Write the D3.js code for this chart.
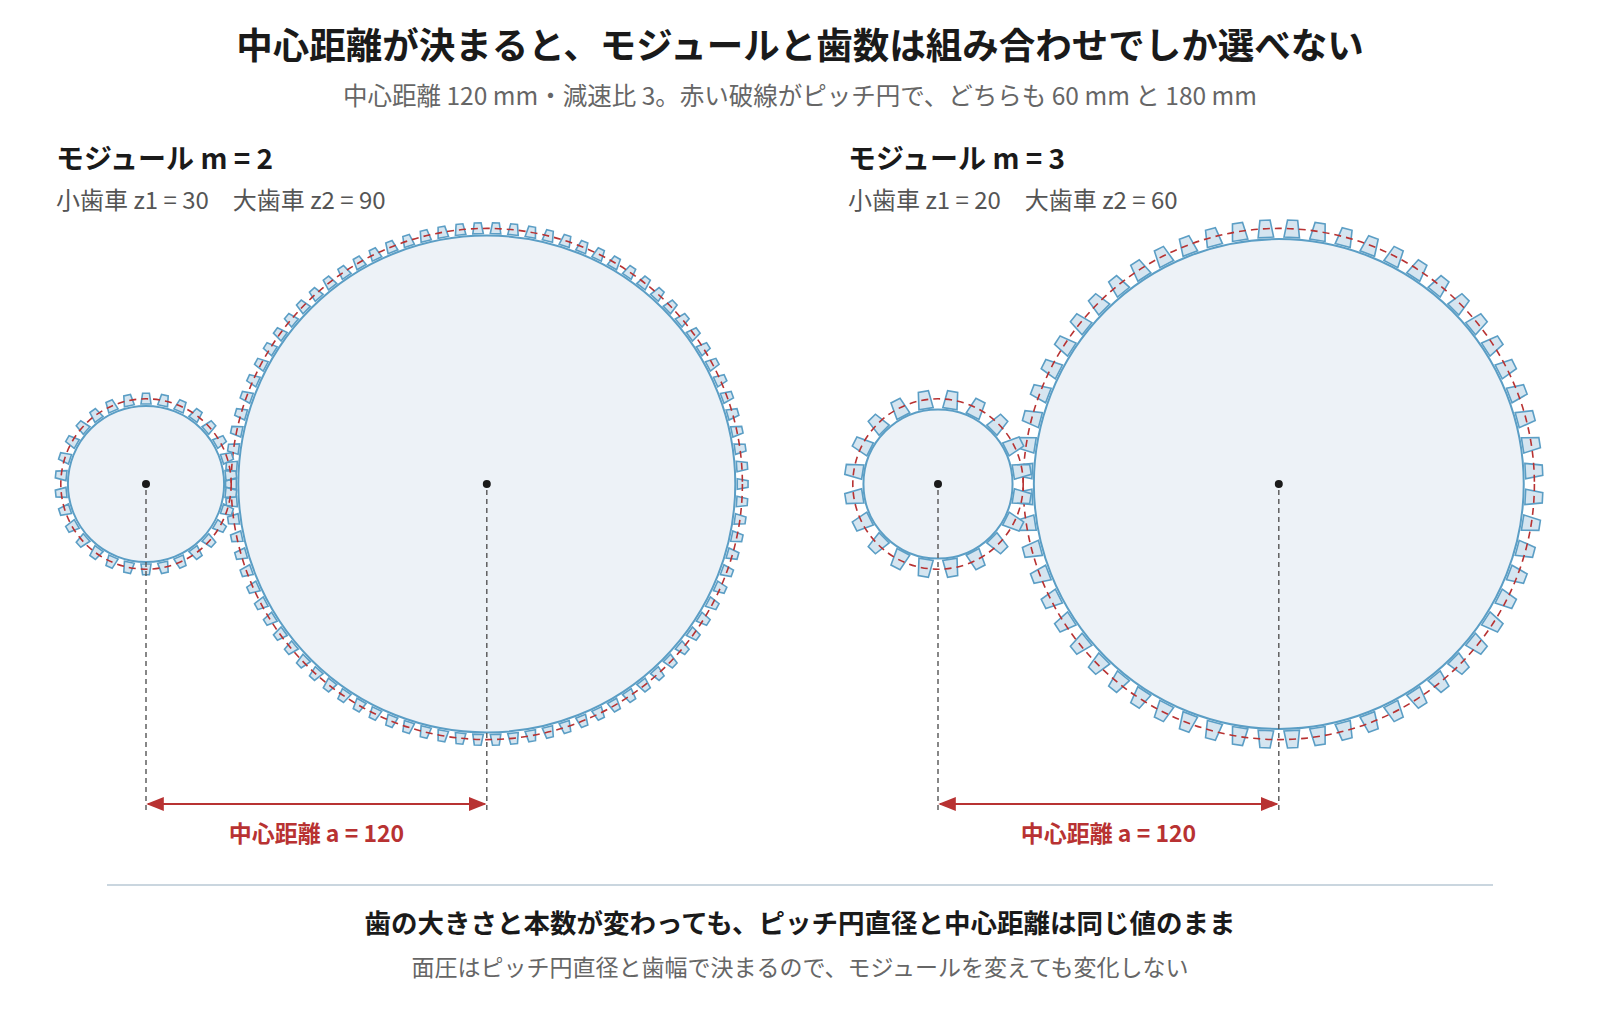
<!DOCTYPE html><html><head><meta charset="utf-8"><script src="https://cdn.jsdelivr.net/npm/d3@7"></script>
<style>body{margin:0;background:#fff}text{font-family:"Noto Sans CJK JP","Noto Sans",sans-serif}</style></head><body>
<svg id="c" width="1600" height="1014"></svg>
<script>
const modules=[2,3];
const smallTeeth=[30,20];
const bigTeeth=[90,60];
const centerDistance=120;
const panelTitles=["モジュール m = 2","モジュール m = 3"];
const panelSubs=["小歯車 z1 = 30　大歯車 z2 = 90","小歯車 z1 = 20　大歯車 z2 = 60"];
const svg=d3.select("#c");
const pxPerMm=2.84, cy=484;
const panelX=[146,938];
svg.append("text").attr("x",800).attr("y",59).attr("text-anchor","middle").attr("font-size",36.5).attr("font-weight",700).attr("fill","#1a1a1a").text("中心距離が決まると、モジュールと歯数は組み合わせでしか選べない");
svg.append("text").attr("x",800).attr("y",105).attr("text-anchor","middle").attr("font-size",24.5).attr("fill","#666").text("中心距離 120 mm・減速比 3。赤い破線がピッチ円で、どちらも 60 mm と 180 mm");
const defs=svg.append("defs");
defs.append("marker").attr("id","ah").attr("viewBox","0 0 10 10").attr("refX",9).attr("refY",5).attr("markerWidth",8).attr("markerHeight",8).attr("orient","auto-start-reverse").append("path").attr("d","M0,1L10,5L0,9z").attr("fill","#b83232");
function gear(g,cx,z,m,off){
  const r=z*m/2*pxPerMm, a=m*pxPerMm, d=1.25*m*pxPerMm;
  const rr=r-d, rt=r+a, pitch=2*Math.PI/z;
  const wr=pitch*0.30, wt=pitch*0.19*(r/rt);
  const gg=g.append("g").attr("transform",`translate(${cx},${cy})`);
  d3.range(z).forEach(i=>{
    const t=(i+off)*pitch-Math.PI/2;
    const p=(ang,rad)=>[rad*Math.cos(ang),rad*Math.sin(ang)];
    const pts=[p(t-wr,rr+2),p(t-wt,rt),p(t+wt,rt),p(t+wr,rr+2)];
    gg.append("path").attr("d","M"+pts.join("L")+"Z").attr("fill","#d5e5f0").attr("stroke","#5b9ec5").attr("stroke-width",1.6);
  });
  gg.append("circle").attr("r",rr).attr("fill","#edf2f7").attr("stroke","#5b9ec5").attr("stroke-width",2);
  gg.append("circle").attr("r",r).attr("fill","none").attr("stroke","#b83232").attr("stroke-width",1.6).attr("stroke-dasharray","7,5");
  gg.append("circle").attr("r",4).attr("fill","#1a1a1a");
  gg.append("line").attr("x1",0).attr("x2",0).attr("y1",6).attr("y2",330).attr("stroke","#555").attr("stroke-width",1.4).attr("stroke-dasharray","5,4");
}
modules.forEach((m,k)=>{
  const g=svg.append("g");
  const x0=panelX[k], x1=x0+centerDistance*pxPerMm;
  g.append("text").attr("x",x0-90).attr("y",169).attr("font-size",28).attr("font-weight",700).attr("fill","#1a1a1a").text(panelTitles[k]);
  g.append("text").attr("x",x0-90).attr("y",209).attr("font-size",24).attr("fill","#555").text(panelSubs[k]);
  gear(g,x1,bigTeeth[k],m,0.5);
  gear(g,x0,smallTeeth[k],m,k===0?0:0.5);
  g.append("line").attr("x1",x0+2).attr("x2",x1-2).attr("y1",804).attr("y2",804).attr("stroke","#b83232").attr("stroke-width",2.2).attr("marker-start","url(#ah)").attr("marker-end","url(#ah)");
  g.append("text").attr("x",(x0+x1)/2).attr("y",842).attr("text-anchor","middle").attr("font-size",23).attr("font-weight",700).attr("fill","#b83232").text("中心距離 a = "+centerDistance);
});
svg.append("line").attr("x1",107).attr("x2",1493).attr("y1",885).attr("y2",885).attr("stroke","#b8c8d4").attr("stroke-width",1.5);
svg.append("text").attr("x",800).attr("y",933).attr("text-anchor","middle").attr("font-size",26.5).attr("font-weight",700).attr("fill","#1a1a1a").text("歯の大きさと本数が変わっても、ピッチ円直径と中心距離は同じ値のまま");
svg.append("text").attr("x",800).attr("y",976).attr("text-anchor","middle").attr("font-size",23).attr("fill","#666").text("面圧はピッチ円直径と歯幅で決まるので、モジュールを変えても変化しない");
</script></body></html>
